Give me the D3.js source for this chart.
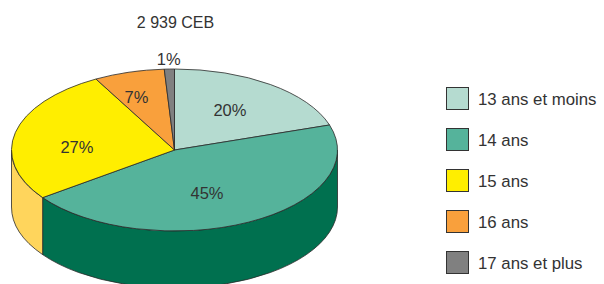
<!DOCTYPE html>
<html>
<head>
<meta charset="utf-8">
<script src="https://cdn.jsdelivr.net/npm/d3@7"></script>
<style>
  body { margin: 0; background: #fff; }
  text { font-family: "Liberation Sans", Arial, sans-serif; fill: #333; }
</style>
</head>
<body>
<script>
// données
const categories = ["13 ans et moins", "14 ans", "15 ans", "16 ans", "17 ans et plus"];
const valeurs = [20, 45, 27, 7, 1];
const etiquettes = ["20%", "45%", "27%", "7%", "1%"];
const titre = "2 939 CEB";

const couleursDessus = ["#b5dbd0", "#55b39b", "#ffee00", "#f9a03c", "#808080"];
const couleursCote = ["#8fc2b3", "#00704f", "#ffd55c", "#d9802a", "#606060"];

const largeur = 604, hauteur = 284;
const cx = 174.5, cy = 150, rx = 163, ry = 81, epaisseur = 57;

const svg = d3.select("body").append("svg")
  .attr("width", largeur)
  .attr("height", hauteur);

// titre
svg.append("text")
  .attr("x", cx + 1)
  .attr("y", 28)
  .attr("text-anchor", "middle")
  .style("font-size", "16px")
  .text(titre);

// angles, 0 en haut, sens horaire
const tranches = d3.pie().sort(null).value(d => d)(valeurs);

const pt = (a, dy = 0) => [cx + rx * Math.sin(a), cy - ry * Math.cos(a) + dy];

function cheminDessus(d) {
  const p0 = pt(d.startAngle), p1 = pt(d.endAngle);
  const grand = d.endAngle - d.startAngle > Math.PI ? 1 : 0;
  return `M${cx},${cy}L${p0}A${rx},${ry} 0 ${grand} 1 ${p1}Z`;
}

function cheminCote(d) {
  // partie visible seulement (entre 90° et 270°)
  const a0 = Math.max(d.startAngle, Math.PI / 2);
  const a1 = Math.min(d.endAngle, 3 * Math.PI / 2);
  if (a1 <= a0) return null;
  const p0 = pt(a0), p1 = pt(a1), q1 = pt(a1, epaisseur), q0 = pt(a0, epaisseur);
  return `M${p0}A${rx},${ry} 0 0 1 ${p1}L${q1}A${rx},${ry} 0 0 0 ${q0}Z`;
}

// côtés
svg.append("g").selectAll("path")
  .data(tranches.filter(d => cheminCote(d)))
  .join("path")
  .attr("d", cheminCote)
  .attr("fill", d => couleursCote[d.index])
  .attr("stroke", "#2a2a2a")
  .attr("stroke-width", 0.8)
  .attr("stroke-linejoin", "round");

// dessus
svg.append("g").selectAll("path")
  .data(tranches)
  .join("path")
  .attr("d", cheminDessus)
  .attr("fill", d => couleursDessus[d.index])
  .attr("stroke", "#2a2a2a")
  .attr("stroke-width", 0.8)
  .attr("stroke-linejoin", "round");

// étiquettes : rayon relatif et petit décalage d'angle (degrés)
const rayonsEtiq = [0.6, 0.57, 0.6, 0.7, 1.12];
const decalEtiq = [-1.5, 6.5, -9, -3.3, 0];
const posEtiq = d => {
  const a = (d.startAngle + d.endAngle) / 2 + decalEtiq[d.index] * Math.PI / 180;
  const f = rayonsEtiq[d.index];
  return [cx + rx * f * Math.sin(a), cy - ry * f * Math.cos(a)];
};
svg.append("g").selectAll("text")
  .data(tranches)
  .join("text")
  .attr("x", d => posEtiq(d)[0])
  .attr("y", d => posEtiq(d)[1] + 6)
  .attr("text-anchor", "middle")
  .style("font-size", "16.5px")
  .text(d => etiquettes[d.index]);

// légende
const yLeg = d3.scaleBand().domain(categories).range([78, 283]).paddingInner(0);
const legende = svg.append("g").selectAll("g")
  .data(categories)
  .join("g")
  .attr("transform", c => `translate(446,${yLeg(c) + yLeg.bandwidth() / 2})`);

legende.append("rect")
  .attr("x", 0.5).attr("y", -11)
  .attr("width", 22).attr("height", 22)
  .attr("fill", (c, i) => couleursDessus[i])
  .attr("stroke", "#333")
  .attr("stroke-width", 1);

legende.append("text")
  .attr("x", 32)
  .attr("y", 6)
  .style("font-size", "16.8px")
  .text(c => c);
</script>
</body>
</html>
